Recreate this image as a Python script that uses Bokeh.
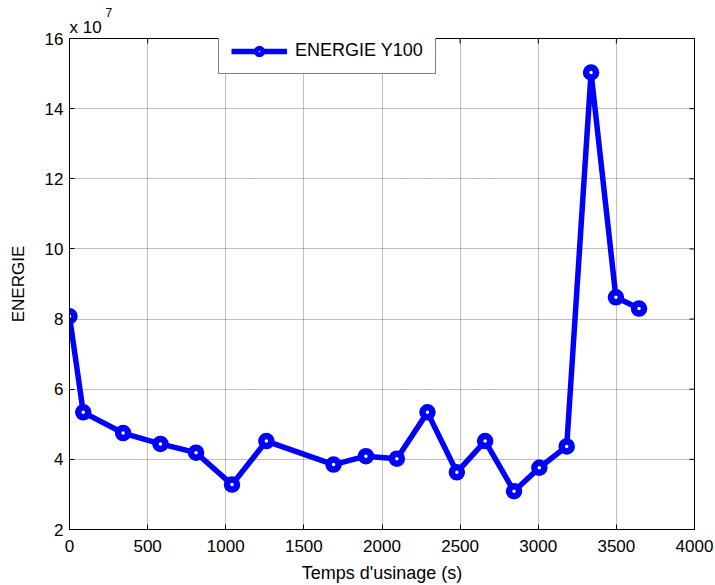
import math

from bokeh.plotting import figure
from bokeh.models import Legend, LegendItem, FixedTicker, Title
from bokeh.embed import file_html
from bokeh.resources import INLINE

# Machining time (s) and measured energy (in units of 1e7)
time_s = [0, 88, 343, 582, 810, 1040, 1260, 1690, 1897, 2095,
          2291, 2479, 2660, 2845, 3007, 3182, 3338, 3497, 3645]
energy_e7 = [8.08, 5.34, 4.75, 4.44, 4.19, 3.28, 4.52, 3.85, 4.09, 4.02,
             5.34, 3.63, 4.52, 3.09, 3.76, 4.37, 15.03, 8.62, 8.30]

x_ticks = [0, 500, 1000, 1500, 2000, 2500, 3000, 3500, 4000]
y_ticks = [2, 4, 6, 8, 10, 12, 14, 16]
series_label = "ENERGIE Y100"
x_title = "Temps d'usinage (s)"
y_title = "ENERGIE"
scale_base = "x 10"
scale_exp = "7"

FONT = "Liberation Sans"
BLUE = "#0000FF"

p = figure(width=715, height=585, x_range=(0, 4000), y_range=(2, 16),
           output_backend="svg", toolbar_location=None,
           min_border_left=69, min_border_right=21,
           min_border_top=38, min_border_bottom=55,
           x_axis_label=x_title, y_axis_label=y_title,
           title=scale_exp)
p.background_fill_color = "white"
p.border_fill_color = "white"
p.outline_line_color = "black"
p.outline_line_width = 1

# multiplier above the y axis: the base sits next to the frame,
# the exponent (plot title slot) is stacked above it and shifted right
base_title = Title(text=scale_base, align="left", offset=0, standoff=4,
                   text_font=FONT, text_font_size="17px",
                   text_font_style="normal", text_color="black")
p.add_layout(base_title, "above")

p.title.align = "left"
p.title.offset = 36
p.title.standoff = -7
p.title.text_font = FONT
p.title.text_font_size = "12px"
p.title.text_font_style = "normal"
p.title.text_color = "black"


def style_axis(ax, ticks, label_size):
    ax.ticker = FixedTicker(ticks=ticks)
    ax.major_tick_in = 5
    ax.major_tick_out = 0
    ax.minor_tick_line_color = None
    ax.axis_line_color = "black"
    ax.axis_line_width = 1
    ax.major_tick_line_color = "black"
    ax.major_tick_line_width = 1
    ax.major_label_text_font = FONT
    ax.major_label_text_color = "black"
    ax.major_label_text_font_size = "17px"
    ax.axis_label_text_font = FONT
    ax.axis_label_text_font_size = label_size
    ax.axis_label_text_font_style = "normal"
    ax.axis_label_text_color = "black"


style_axis(p.xaxis[0], x_ticks, "18px")
style_axis(p.yaxis[0], y_ticks, "17px")
p.xaxis[0].major_label_standoff = 10
p.xaxis[0].axis_label_standoff = 8
p.yaxis[0].major_label_standoff = 6
p.yaxis[0].axis_label_standoff = 14

for g, ticks in ((p.xgrid[0], x_ticks), (p.ygrid[0], y_ticks)):
    g.ticker = FixedTicker(ticks=ticks)
    g.grid_line_color = "#000000"
    g.grid_line_alpha = 0.5
    g.grid_line_dash = "1 1"
    g.grid_line_width = 1

# inward tick marks along the top and right edges of the box
p.scatter(x_ticks, [y_ticks[-1]] * len(x_ticks), marker="dash", size=10,
          angle=math.pi / 2, line_color="black", line_width=1)
p.scatter([x_ticks[-1]] * len(y_ticks), y_ticks, marker="dash", size=10,
          line_color="black", line_width=1)

line_r = p.line(time_s, energy_e7, line_color=BLUE, line_width=5.5)
dots_r = p.scatter(time_s, energy_e7, marker="circle", size=10,
                   line_color=BLUE, line_width=6.5, fill_color="white")

legend = Legend(items=[LegendItem(label=series_label, renderers=[line_r, dots_r])],
                location=(149, 455), orientation="vertical",
                padding=12, spacing=0, margin=0,
                glyph_width=56, glyph_height=12, label_height=12,
                label_standoff=8,
                label_text_font=FONT, label_text_font_size="18px",
                label_text_color="black",
                border_line_color="black", border_line_width=1,
                background_fill_color="white", background_fill_alpha=1)
p.add_layout(legend)

open("out.html", "w").write(file_html(p, INLINE))
